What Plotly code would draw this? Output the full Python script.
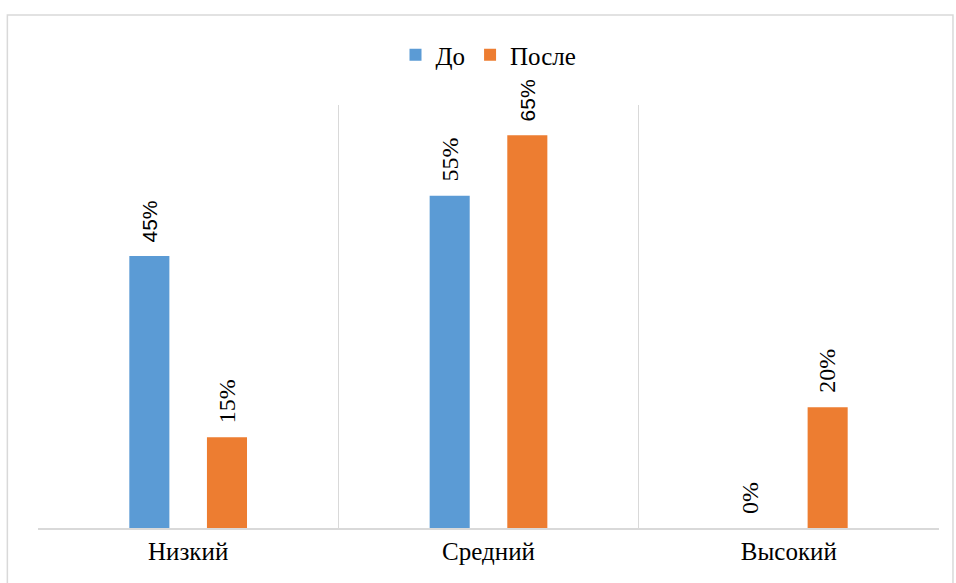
import plotly.graph_objects as go

categories = ["Низкий", "Средний", "Высокий"]
before = [0.45, 0.55, 0.0]
after = [0.15, 0.65, 0.20]
series_names = ["До", "После"]
colors = ["#5b9bd5", "#ed7d31"]

serif = "Liberation Serif"
sans = "Liberation Sans"
# label fonts per bar (some labels were set in a sans face)
before_label_fonts = [sans, serif, serif]
after_label_fonts = [serif, sans, serif]

fig = go.Figure()
for name, vals, col in zip(series_names, [before, after], colors):
    fig.add_trace(go.Bar(
        x=categories, y=vals, name=name,
        marker=dict(color=col, line=dict(width=0)),
        hoverinfo="skip",
    ))

# rotated value labels above each bar
offset_px = 38.75
for vals, fonts, sign in [(before, before_label_fonts, -1), (after, after_label_fonts, 1)]:
    for cat, v, f in zip(categories, vals, fonts):
        fig.add_annotation(
            x=cat, y=v, xref="x", yref="y",
            text=f"{round(v * 100)}%",
            textangle=-90, showarrow=False,
            xshift=sign * offset_px, yanchor="bottom", yshift=12,
            font=dict(family=f, size=24 if f == serif else 21, color="#000000"),
        )

# outer chart frame
fig.add_shape(type="rect", xref="paper", yref="paper",
              x0=-0.034, x1=1.0155, y0=-0.3, y1=1.213,
              line=dict(color="#d9d9d9", width=1.5), fillcolor="rgba(0,0,0,0)",
              layer="below")

fig.update_layout(
    width=956, height=583,
    margin=dict(l=38, r=17, t=105, b=55),
    paper_bgcolor="white", plot_bgcolor="white",
    barmode="group", bargap=0.483, bargroupgap=0.484,
    font=dict(family=serif, size=24, color="#000000"),
    showlegend=True,
    legend=dict(orientation="h", x=0.5, xanchor="center", y=1.118, yanchor="middle",
                font=dict(family=serif, size=25, color="#000000"), itemwidth=30,
                traceorder="normal"),
    xaxis=dict(
        tickson="boundaries", showgrid=True, gridcolor="#d9d9d9", gridwidth=1,
        ticks="", showline=True, linecolor="#d9d9d9", linewidth=1.5,
        tickfont=dict(family=serif, size=25, color="#000000"), range=[-0.5, 2.5],
        fixedrange=True,
    ),
    yaxis=dict(range=[0, 0.70], showgrid=False, showticklabels=False,
               zeroline=False, showline=False, ticks="", fixedrange=True),
)

fig.write_html("out.html")
